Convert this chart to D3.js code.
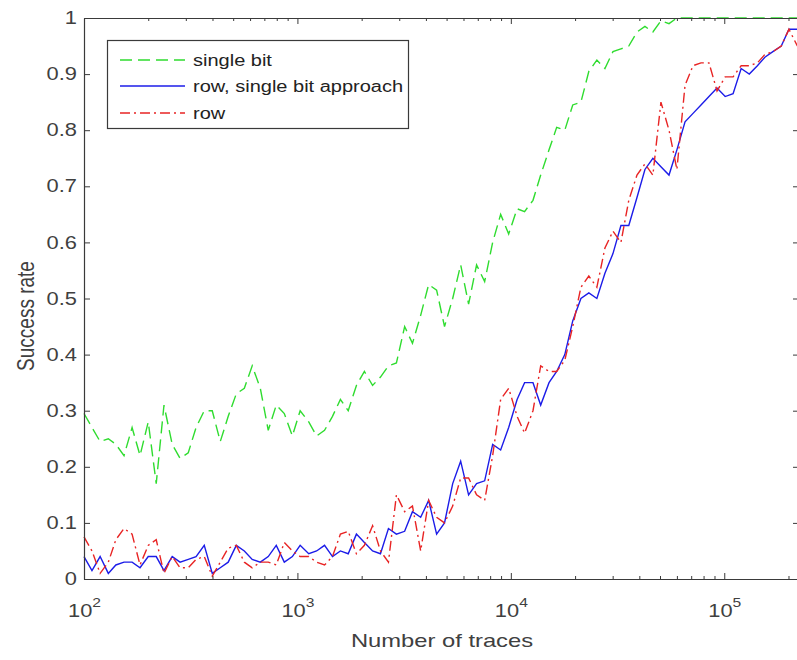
<!DOCTYPE html>
<html>
<head>
<meta charset="utf-8">
<script src="https://cdn.jsdelivr.net/npm/d3@7"></script>
<style>
body { margin: 0; background: #fff; }
svg { display: block; font-family: "Liberation Sans", Arial, sans-serif; }
</style>
</head>
<body>
<div id="chart"></div>
<script>
// Number of traces (x grid shared by all three curves)
const traces = [100, 109, 119, 130, 141, 154, 168, 183, 200, 218,
    237, 259, 282, 308, 335, 366, 399, 435, 474, 517,
    564, 614, 670, 730, 796, 868, 947, 1030, 1130, 1230,
    1340, 1460, 1590, 1730, 1890, 2060, 2250, 2450, 2670, 2910,
    3180, 3460, 3780, 4120, 4490, 4890, 5340, 5820, 6340, 6910,
    7540, 8220, 8960, 9770, 10700, 11600, 12700, 13800, 15100, 16400,
    17900, 19500, 21300, 23200, 25300, 27600, 30100, 32800, 35700, 39000,
    42500, 46300, 50500, 55100, 60000, 65500, 71400, 77800, 84800, 92500,
    101000, 110000, 120000, 131000, 143000, 155000, 169000, 185000, 201000, 220000];

const singleBit = [0.295, 0.27, 0.245, 0.25, 0.24, 0.22, 0.27, 0.22, 0.28, 0.17,
    0.31, 0.24, 0.215, 0.225, 0.27, 0.30, 0.30, 0.245, 0.29, 0.33,
    0.34, 0.38, 0.34, 0.265, 0.31, 0.295, 0.255, 0.30, 0.28, 0.255,
    0.265, 0.29, 0.32, 0.30, 0.345, 0.37, 0.345, 0.36, 0.38, 0.385,
    0.45, 0.42, 0.47, 0.525, 0.515, 0.45, 0.50, 0.56, 0.49, 0.56,
    0.53, 0.60, 0.65, 0.615, 0.66, 0.655, 0.675, 0.72, 0.765, 0.805,
    0.80, 0.845, 0.85, 0.905, 0.925, 0.91, 0.94, 0.945, 0.95, 0.975,
    0.985, 0.975, 0.995, 0.99, 1, 1, 1, 1, 1, 1,
    1, 1, 1, 1, 1, 1, 1, 1, 1, 1];

const rowSingleBit = [0.04, 0.015, 0.04, 0.01, 0.025, 0.03, 0.03, 0.02, 0.04, 0.04,
    0.015, 0.04, 0.03, 0.035, 0.04, 0.06, 0.01, 0.02, 0.03, 0.06,
    0.05, 0.035, 0.03, 0.04, 0.06, 0.03, 0.04, 0.06, 0.045, 0.05,
    0.06, 0.04, 0.05, 0.045, 0.08, 0.065, 0.05, 0.045, 0.09, 0.08,
    0.085, 0.12, 0.11, 0.14, 0.08, 0.10, 0.17, 0.21, 0.15, 0.17,
    0.175, 0.24, 0.23, 0.27, 0.32, 0.35, 0.35, 0.31, 0.35, 0.37,
    0.40, 0.46, 0.50, 0.51, 0.50, 0.545, 0.58, 0.63, 0.63, 0.68,
    0.73, 0.75, 0.735, 0.72, 0.765, 0.815, 0.83, 0.845, 0.86, 0.875,
    0.86, 0.865, 0.91, 0.90, 0.915, 0.93, 0.94, 0.95, 0.98, 0.98];

const row = [0.075, 0.05, 0.01, 0.03, 0.07, 0.09, 0.08, 0.025, 0.06, 0.07,
    0.01, 0.04, 0.02, 0.02, 0.035, 0.04, 0.005, 0.03, 0.055, 0.06,
    0.03, 0.02, 0.03, 0.03, 0.025, 0.065, 0.05, 0.04, 0.04, 0.03,
    0.025, 0.04, 0.08, 0.085, 0.045, 0.06, 0.095, 0.05, 0.03, 0.15,
    0.12, 0.13, 0.05, 0.14, 0.11, 0.10, 0.13, 0.18, 0.18, 0.15,
    0.14, 0.22, 0.32, 0.34, 0.29, 0.26, 0.30, 0.38, 0.37, 0.37,
    0.39, 0.45, 0.52, 0.54, 0.52, 0.59, 0.62, 0.60, 0.675, 0.72,
    0.74, 0.72, 0.85, 0.80, 0.73, 0.88, 0.915, 0.92, 0.92, 0.87,
    0.895, 0.895, 0.915, 0.915, 0.92, 0.935, 0.94, 0.95, 0.98, 0.95];

const legendLabels = ["single bit", "row, single bit approach", "row"];
const yTicks = [0, 0.1, 0.2, 0.3, 0.4, 0.5, 0.6, 0.7, 0.8, 0.9, 1];
const xMajorTicks = [1e2, 1e3, 1e4, 1e5];
const xMinorTicks = [200, 300, 400, 500, 600, 700, 800, 900,
    2000, 3000, 4000, 5000, 6000, 7000, 8000, 9000,
    20000, 30000, 40000, 50000, 60000, 70000, 80000, 90000, 200000];

// figure was stretched sideways, so text is widened to match
const SX = 1.25;
const axisColor = "#3a3a3a";
const textColor = "#404040";

const margin = { top: 18, left: 84 };
const width = 715;
const height = 561;

const svg = d3.select("#chart")
    .append("svg")
    .attr("width", 797)
    .attr("height", 660);

const g = svg.append("g")
    .attr("transform", `translate(${margin.left},${margin.top})`);

const x = d3.scaleLog()
    .domain([100, 224000])
    .range([0, width]);

const y = d3.scaleLinear()
    .domain([0, 1])
    .range([height, 0]);

const series = [
    { values: singleBit, color: "#2fdc2f", dash: "12,6" },
    { values: rowSingleBit, color: "#1c1ce8", dash: null },
    { values: row, color: "#e82424", dash: "10,4,2,4" }
];

const line = d3.line()
    .x((d, i) => x(traces[i]))
    .y(d => y(d));

// Draw the curves
g.selectAll(".curve")
    .data(series)
    .enter().append("path")
    .attr("class", "curve")
    .attr("d", d => line(d.values))
    .attr("fill", "none")
    .attr("stroke", d => d.color)
    .attr("stroke-width", 1.4)
    .attr("stroke-dasharray", d => d.dash);

// Axes (box with inward ticks on all four sides)
function styleAxis(sel) {
    sel.attr("color", axisColor).attr("font-family", null).attr("font-size", null);
    sel.select(".domain").attr("stroke-width", 1.2);
}

const bottomAxis = g.append("g")
    .attr("transform", `translate(0,${height})`)
    .call(d3.axisBottom(x).tickValues(xMajorTicks).tickSize(-6).tickSizeOuter(0));
styleAxis(bottomAxis);

bottomAxis.selectAll(".tick text")
    .attr("y", 38)
    .attr("dy", null)
    .attr("fill", textColor)
    .attr("font-size", 17.5)
    .attr("transform", `scale(${SX},1)`)
    .text("10")
    .append("tspan")
    .attr("dy", -10)
    .attr("font-size", 12.5)
    .text(d => Math.round(Math.log10(d)));

g.append("g")
    .attr("transform", `translate(0,${height})`)
    .call(d3.axisBottom(x).tickValues(xMinorTicks).tickSize(-3).tickSizeOuter(0).tickFormat(""))
    .call(styleAxis);

g.append("g")
    .call(d3.axisTop(x).tickValues(xMajorTicks).tickSize(-6).tickSizeOuter(0).tickFormat(""))
    .call(styleAxis);

g.append("g")
    .call(d3.axisTop(x).tickValues(xMinorTicks).tickSize(-3).tickSizeOuter(0).tickFormat(""))
    .call(styleAxis);

const leftAxis = g.append("g")
    .call(d3.axisLeft(y).tickValues(yTicks).tickSize(-6).tickSizeOuter(0).tickFormat(d => d));
styleAxis(leftAxis);

leftAxis.selectAll(".tick text")
    .attr("x", -7 / SX)
    .attr("fill", textColor)
    .attr("font-size", 17.5)
    .attr("transform", `scale(${SX},1)`);

g.append("g")
    .attr("transform", `translate(${width},0)`)
    .call(d3.axisRight(y).tickValues(yTicks).tickSize(-6).tickSizeOuter(0).tickFormat(""))
    .call(styleAxis);

// Axis labels
svg.append("text")
    .attr("transform", `translate(442,647) scale(${SX},1)`)
    .attr("text-anchor", "middle")
    .attr("font-size", 19)
    .attr("fill", textColor)
    .text("Number of traces");

svg.append("text")
    .attr("transform", `translate(34,316) scale(${SX},1) rotate(-90)`)
    .attr("text-anchor", "middle")
    .attr("font-size", 19)
    .attr("fill", textColor)
    .text("Success rate");

// Legend
const legend = svg.append("g")
    .attr("transform", "translate(107,40)");

legend.append("rect")
    .attr("x", 0.5)
    .attr("y", 0.5)
    .attr("width", 301)
    .attr("height", 88)
    .attr("fill", "#fff")
    .attr("stroke", axisColor)
    .attr("stroke-width", 1.2);

const rowsY = [20, 46, 73];

legend.selectAll(".key")
    .data(series)
    .enter().append("line")
    .attr("class", "key")
    .attr("x1", 13)
    .attr("x2", 78)
    .attr("y1", (d, i) => rowsY[i])
    .attr("y2", (d, i) => rowsY[i])
    .attr("stroke", d => d.color)
    .attr("stroke-width", 1.4)
    .attr("stroke-dasharray", d => d.dash);

legend.selectAll(".label")
    .data(legendLabels)
    .enter().append("text")
    .attr("class", "label")
    .attr("transform", (d, i) => `translate(86,${rowsY[i] + 5.5}) scale(${SX},1)`)
    .attr("font-size", 16)
    .attr("fill", "#222")
    .text(d => d);
</script>
</body>
</html>
